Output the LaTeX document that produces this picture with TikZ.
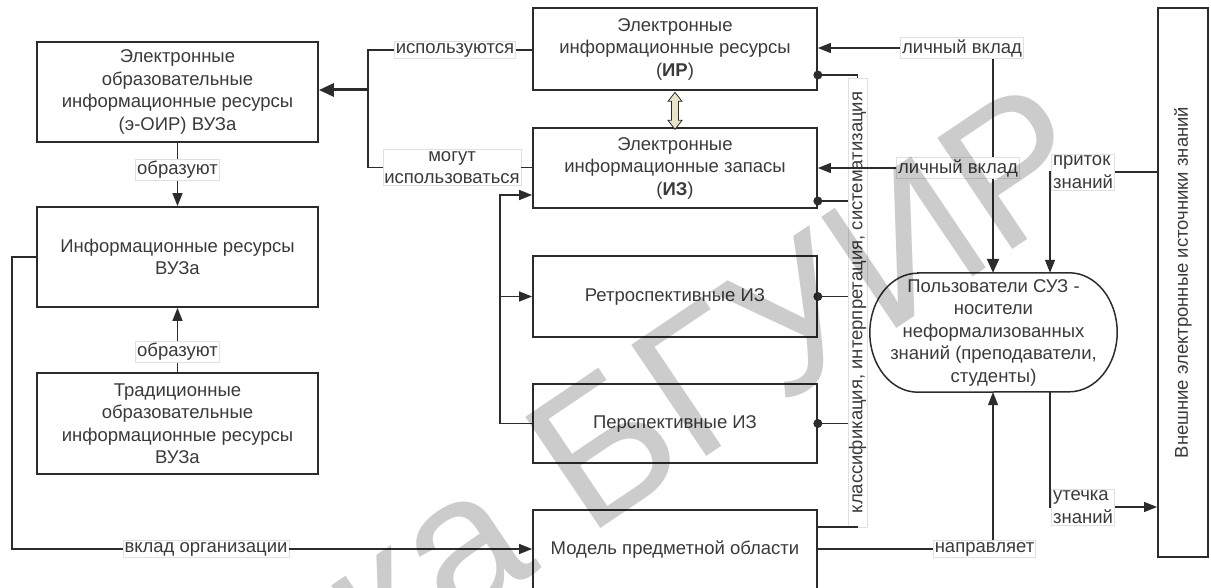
\documentclass[tikz,border=0pt]{standalone}
\usepackage{fontspec}
\setmainfont{Liberation Sans}
\usetikzlibrary{arrows.meta}

\definecolor{ink}{HTML}{2C2C2C}
\definecolor{txt}{HTML}{3A3A3A}
\definecolor{lblframe}{HTML}{E0E0E0}
\definecolor{dblfill}{HTML}{E6E6C8}

\begin{document}
\begin{tikzpicture}[x=1pt,y=-1pt,
  every node/.style={text=txt, font=\fontsize{18.5}{22.5}\selectfont},
  box/.style={draw=ink, line width=1.7pt, align=center, inner sep=2pt},
  lbl/.style={draw=lblframe, line width=0.6pt, fill=white, inner sep=1.5pt, align=center},
  conn/.style={draw=ink, line width=1.3pt},
  tip/.style={-{Triangle[length=13pt,width=10pt]}},
  bigtip/.style={-{Triangle[length=15pt,width=13pt]}},
  dot/.style={fill=ink}]

\useasboundingbox (0,0) rectangle (1211,588);
\clip (0,0) rectangle (1211,588);

% ---- left column ----
\node[box, minimum width=281, minimum height=100] (eoir) at (177.5,92)
  {Электронные\\образовательные\\информационные ресурсы\\(э-ОИР) ВУЗа};
\node[box, minimum width=281, minimum height=100] (ivuz) at (177.5,257)
  {Информационные ресурсы\\ВУЗа};
\node[box, minimum width=281, minimum height=101] (trad) at (177.5,423.5)
  {Традиционные\\образовательные\\информационные ресурсы\\ВУЗа};

% ---- middle column ----
\node[box, minimum width=284, minimum height=82] (ir) at (675,49)
  {Электронные\\информационные ресурсы\\(\textbf{ИР})};
\node[box, minimum width=284, minimum height=80] (iz) at (675,168)
  {Электронные\\информационные запасы\\(\textbf{ИЗ})};
\node[box, minimum width=284, minimum height=81] (retro) at (675,296.5)
  {Ретроспективные ИЗ};
\node[box, minimum width=284, minimum height=79] (persp) at (675,423.5)
  {Перспективные ИЗ};
\node[box, minimum width=284, minimum height=80] (model) at (675,550)
  {Модель предметной области};

% ---- right part ----
\node[minimum width=247, minimum height=119, align=center, inner sep=0pt] (users) at (993.5,332.5)
  {Пользователи СУЗ -\\носители\\неформализованных\\знаний (преподаватели,\\студенты)};
\draw[ink, line width=1.5pt]
  ([xshift=48pt]users.north west) -- ([xshift=-48pt]users.north east)
  arc[start angle=90, end angle=-90, x radius=48pt, y radius=59.5pt]
  -- ([xshift=48pt]users.south west)
  arc[start angle=270, end angle=90, x radius=48pt, y radius=59.5pt] -- cycle;

\node[box, minimum width=50, minimum height=549] (ext) at (1183,282.5) {};
\node[rotate=90] (exttxt) at (ext.center) {Внешние электронные источники знаний};

% ---- labels ----
\node[lbl] (lisp) at (455,50) {используются};
\node[lbl] (lmog) at (452,167.5) {могут\\использоваться};
\node[lbl] (lob1) at (177.5,170) {образуют};
\node[lbl] (lob2) at (177.5,352) {образуют};
\node[lbl] (lvkl) at (206,549) {вклад организации};
\node[lbl, rotate=90, minimum width=449, inner sep=1pt] (cls) at (857.5,302.5)
  {классификация, интерпретация, систематизация};
\node[lbl] (llv1) at (962,48) {личный вклад};
\node[lbl] (llv2) at (958,168) {личный вклад};
\node[lbl, align=left] (lpr) at (1083,172) {приток\\знаний};
\node[lbl, align=left] (lut) at (1083,507) {утечка\\знаний};
\node[lbl] (lnap) at (984.5,549) {направляет};

% ---- helper points ----
\coordinate (jTop) at (368,50);
\coordinate (jMid) at (368,90);
\coordinate (jBot) at (368,167.5);
\coordinate (xL) at (500,195);
\coordinate (cL) at (12,549);
\coordinate (xA) at (993,0);
\coordinate (xB) at (1050,0);

% ---- connectors: left column ----
\draw[conn] (eoir.south) -- (lob1.north);
\draw[conn,tip] (lob1.south) -- (ivuz.north);
\draw[conn] (trad.north) -- (lob2.south);
\draw[conn,tip] (lob2.north) -- (ivuz.south);
\draw[conn] (ivuz.west) -| (cL) -- (lvkl.west);
\draw[conn,tip] (lvkl.east) -- (lvkl.east -| model.west);

% ---- connectors: usage of IR / IZ ----
\draw[conn] (lisp.east -| ir.west) -- (lisp.east);
\draw[conn] (lisp.west) -- (jTop) -- (jBot) -- (lmog.west);
\draw[conn] (lmog.east) -- (lmog.east -| iz.west);
\draw[draw=ink, line width=3pt, bigtip] (jMid) -- (jMid -| eoir.east);

% ---- connectors: stores ----
\draw[conn,tip] (persp.west) -| (xL) -- (xL -| iz.west);
\draw[conn,tip] (xL |- retro.west) -- (retro.west);

% double arrow between IR and IZ
\draw[ink, line width=0.8pt, fill=dblfill]
  ([yshift=-1.5pt]ir.south) -- ++(7,9) -- ++(-3.5,0) -- ++(0,19) -- ++(3.5,0)
  -- ++(-7,9) -- ++(-7,-9) -- ++(3.5,0) -- ++(0,-19) -- ++(-3.5,0) -- cycle;

% ---- processing bus ----
\coordinate (dIR) at ([yshift=-26pt]ir.east);
\coordinate (dIZ) at ([yshift=-33pt]iz.east);
\coordinate (dMod) at ([yshift=23pt]model.east);
\draw[conn] (dIR) -| (cls.east);
\draw[conn] (dMod) -| (cls.west);
\draw[conn] (dIZ) -- (dIZ -| cls.north);
\draw[conn] (retro.east) -- (retro.east -| cls.north);
\draw[conn] (persp.east) -- (persp.east -| cls.north);
\foreach \p in {dIR,dIZ,retro.east,persp.east} \fill[dot] (\p) circle (4.5pt);

% ---- personal contribution ----
\draw[conn,tip] (llv1.west) -- (llv1.west -| ir.east);
\draw[conn,tip] (llv2.west) -- (llv2.west -| iz.east);
\draw[conn] (llv1.south -| xA) -- (llv2.north -| xA);
\draw[draw=ink, line width=2.2pt, -{Triangle[length=14pt,width=12pt]}] (llv2.south -| xA) -- (users.north -| xA);

% ---- knowledge inflow / outflow ----
\draw[conn] (lpr.east -| ext.west) -- (lpr.east);
\draw[conn,tip] (lpr.west) -| (users.north -| xB);
\draw[conn] (users.south -| xB) |- (lut.west);
\draw[conn,tip] (lut.east) -- (lut.east -| ext.west);

% ---- domain model guides users ----
\draw[conn] (model.east |- lnap.west) -- (lnap.west);
\draw[conn,tip] (lnap.north -| xA) -- (users.south -| xA);

% ---- library stamp across the sheet ----
\node[rotate=34, anchor=base east, inner sep=0pt, text=black, opacity=0.2,
      font=\fontsize{195}{195}\selectfont] (stamp) at (1108,186) {Библиотека БГУИР};

\end{tikzpicture}
\end{document}
